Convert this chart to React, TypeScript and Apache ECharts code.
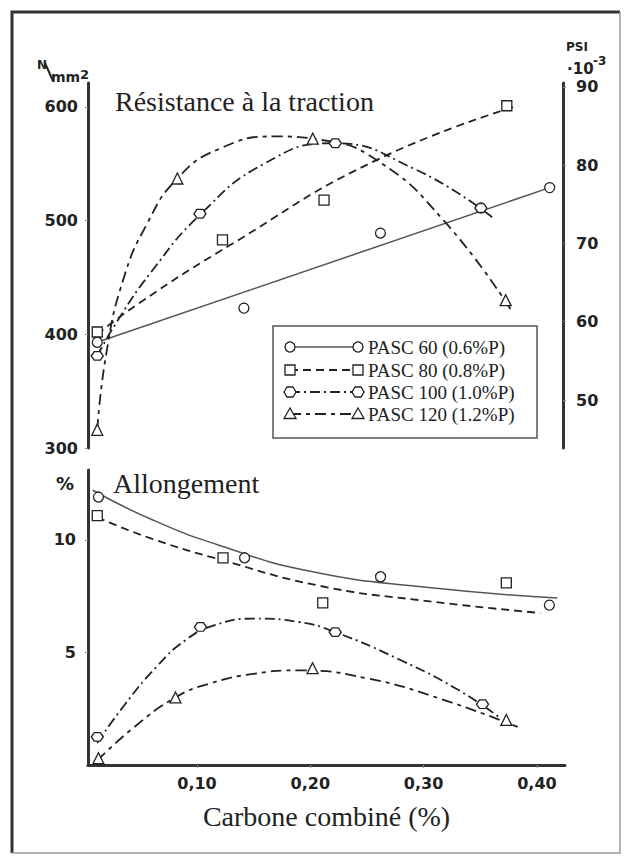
import React, { useEffect, useRef } from 'react';
import * as echarts from 'echarts';

// ---- axis ticks ----
const xTicks = [0.1, 0.2, 0.3, 0.4];
const rmTicks = [300, 400, 500, 600];
const psiTicks = [50, 60, 70, 80, 90];
const elongTicks = [5, 10];

const names = ['PASC 60 (0.6%P)', 'PASC 80 (0.8%P)', 'PASC 100 (1.0%P)', 'PASC 120 (1.2%P)'];

// ---- Résistance à la traction (N/mm2): measured points ----
const rmX60 = [0.012, 0.142, 0.263, 0.352, 0.413];
const rmY60 = [393, 423, 489, 511, 529];
const rmX80 = [0.012, 0.123, 0.213, 0.375];
const rmY80 = [402, 483, 518, 601];
const rmX100 = [0.012, 0.103, 0.223, 0.352];
const rmY100 = [381, 506, 568, 511];
const rmX120 = [0.012, 0.083, 0.203, 0.374];
const rmY120 = [316, 537, 572, 430];

// ---- Résistance: drawn curves ----
const rmCurveX60 = [0.012, 0.413];
const rmCurveY60 = [393, 529];
const rmCurveX80 = [0.012, 0.05, 0.129, 0.259, 0.385];
const rmCurveY80 = [400, 428, 478, 553, 601];
const rmCurveX100 = [0.012, 0.03, 0.06, 0.103, 0.16, 0.22, 0.294, 0.362];
const rmCurveY100 = [381, 412, 455, 505, 550, 568, 545, 503];
const rmCurveX120 = [0.012, 0.02, 0.035, 0.056, 0.083, 0.12, 0.17, 0.21, 0.26, 0.32, 0.379];
const rmCurveY120 = [316, 383, 448, 497, 537, 563, 574, 571, 553, 499, 421];

// ---- Allongement (%): measured points ----
const alX60 = [0.013, 0.142, 0.262, 0.411];
const alY60 = [11.9, 9.2, 8.36, 7.1];
const alX80 = [0.012, 0.123, 0.211, 0.373];
const alY80 = [11.07, 9.2, 7.2, 8.09];
const alX100 = [0.012, 0.103, 0.222, 0.352];
const alY100 = [1.25, 6.13, 5.9, 2.7];
const alX120 = [0.013, 0.081, 0.202, 0.373];
const alY120 = [0.3, 3.0, 4.3, 2.0];

// ---- Allongement: drawn curves ----
const alCurveX60 = [0.008, 0.06, 0.12, 0.2, 0.3, 0.418];
const alCurveY60 = [12.2, 10.9, 9.75, 8.6, 7.9, 7.42];
const alCurveX80 = [0.012, 0.06, 0.122, 0.209, 0.3, 0.403];
const alCurveY80 = [11.0, 10.05, 9.1, 7.95, 7.3, 6.75];
const alCurveX100 = [0.012, 0.035, 0.065, 0.09, 0.115, 0.15, 0.19, 0.222, 0.28, 0.33, 0.366];
const alCurveY100 = [0.98, 2.6, 4.4, 5.55, 6.2, 6.5, 6.35, 5.9, 4.65, 3.35, 2.15];
const alCurveX120 = [0.012, 0.045, 0.081, 0.11, 0.15, 0.19, 0.25, 0.313, 0.383];
const alCurveY120 = [0.2, 1.7, 3.0, 3.6, 4.05, 4.2, 3.85, 2.97, 1.69];

const zip = (xs: number[], ys: number[]) => xs.map((x, i) => [x, ys[i]]);

const HEX = 'path://M0,5 L2.9,0 L8.7,0 L11.6,5 L8.7,10 L2.9,10 Z';
const symbols = ['circle', 'rect', HEX, 'triangle'];
const symbolSizes = [10, 10, [12, 10], 11];
const dashes: any[] = ['solid', [8, 5], [10, 4, 2, 4], [11, 5, 4, 5]];
const lineColors = ['#555', '#222', '#222', '#222'];
const lineWidths = [1.5, 1.8, 1.8, 1.8];

const X_MIN = 0.0038;
const X_MAX = 0.4248;

export default function App() {
  const ref = useRef<HTMLDivElement>(null);
  useEffect(() => {
    if (!ref.current) return;
    const chart = echarts.init(ref.current, null, { renderer: 'svg' });

    const topPts = [zip(rmX60, rmY60), zip(rmX80, rmY80), zip(rmX100, rmY100), zip(rmX120, rmY120)];
    const topCurves = [
      zip(rmCurveX60, rmCurveY60),
      zip(rmCurveX80, rmCurveY80),
      zip(rmCurveX100, rmCurveY100),
      zip(rmCurveX120, rmCurveY120),
    ];
    const botPts = [zip(alX60, alY60), zip(alX80, alY80), zip(alX100, alY100), zip(alX120, alY120)];
    const botCurves = [
      zip(alCurveX60, alCurveY60),
      zip(alCurveX80, alCurveY80),
      zip(alCurveX100, alCurveY100),
      zip(alCurveX120, alCurveY120),
    ];

    const series: any[] = [];
    const addPanel = (curves: number[][][], pts: number[][][], xi: number, yi: number) => {
      for (let i = 0; i < 4; i++) {
        series.push({
          type: 'line',
          name: names[i],
          xAxisIndex: xi,
          yAxisIndex: yi,
          data: curves[i],
          smooth: curves[i].length > 2 ? 0.5 : false,
          symbol: 'none',
          showSymbol: false,
          silent: true,
          lineStyle: { color: lineColors[i], width: lineWidths[i], type: dashes[i] },
          z: 2,
        });
        series.push({
          type: 'scatter',
          name: names[i],
          xAxisIndex: xi,
          yAxisIndex: yi,
          data: pts[i],
          symbol: symbols[i],
          symbolSize: symbolSizes[i],
          symbolKeepAspect: true,
          itemStyle: { color: '#fff', borderColor: '#222', borderWidth: 1.3, opacity: 1 },
          z: 3,
        });
      }
    };
    addPanel(topCurves, topPts, 0, 0);
    addPanel(botCurves, botPts, 1, 2);

    const tickLabel = {
      fontFamily: 'DejaVu Sans',
      fontWeight: 'bold' as const,
      fontSize: 16,
      color: '#222',
    };
    const axisLine = { show: true, onZero: false, lineStyle: { color: '#333', width: 3 } };

    // legend graphics
    const legY = [347, 370, 392, 414];
    const sym = (k: number, cx: number, cy: number) => {
      const style = { fill: '#fff', stroke: '#222', lineWidth: 1.3 };
      if (k === 0) return { type: 'circle', z: 102, shape: { cx, cy, r: 5 }, style };
      if (k === 1) return { type: 'rect', z: 102, shape: { x: cx - 5, y: cy - 5, width: 10, height: 10 }, style };
      if (k === 2)
        return {
          type: 'polygon', z: 102,
          shape: { points: [[cx - 6, cy], [cx - 3, cy - 5], [cx + 3, cy - 5], [cx + 6, cy], [cx + 3, cy + 5], [cx - 3, cy + 5]] },
          style,
        };
      return { type: 'polygon', z: 102, shape: { points: [[cx, cy - 6], [cx + 6, cy + 4.5], [cx - 6, cy + 4.5]] }, style };
    };
    const legendEls: any[] = [
      { type: 'rect', z: 100, shape: { x: 273, y: 326, width: 264, height: 112 }, style: { fill: '#fff', stroke: '#555', lineWidth: 1.5 } },
    ];
    names.forEach((n, i) => {
      const y = legY[i];
      legendEls.push({
        type: 'line', z: 101,
        shape: { x1: 290, y1: y, x2: 358, y2: y },
        style: { stroke: lineColors[i], lineWidth: lineWidths[i], lineDash: dashes[i] === 'solid' ? null : dashes[i] },
      });
      legendEls.push(sym(i, 290, y));
      legendEls.push(sym(i, 358, y));
      legendEls.push({
        type: 'text', z: 102, x: 368, y,
        style: { text: n, fontFamily: 'Liberation Serif', fontSize: 19, fill: '#222', verticalAlign: 'middle' },
      });
    });

    const boldSans = (size: number) => ({ fontFamily: 'DejaVu Sans', fontWeight: 'bold', fontSize: size, fill: '#222' });

    const option: any = {
      animation: false,
      backgroundColor: '#fff',
      grid: [
        { left: 88, right: 61, top: 83, bottom: 409 },
        { left: 88, right: 59, top: 470, bottom: 92 },
      ],
      xAxis: [
        { type: 'value', gridIndex: 0, min: X_MIN, max: X_MAX, show: false },
        {
          type: 'value', gridIndex: 1, min: X_MIN, max: X_MAX,
          axisLine,
          axisTick: { show: true, customValues: xTicks, length: 3, lineStyle: { color: '#888' } },
          axisLabel: { ...tickLabel, customValues: xTicks, margin: 10, formatter: (v: number) => v.toFixed(2).replace('.', ',') },
          splitLine: { show: false },
          name: 'Carbone combiné (%)',
          nameLocation: 'middle',
          nameGap: 37,
          nameTextStyle: { fontFamily: 'Liberation Serif', fontSize: 28, color: '#222' },
        },
      ],
      yAxis: [
        {
          type: 'value', gridIndex: 0, min: 300, max: 621,
          axisLine,
          axisTick: { show: true, customValues: rmTicks, length: 3, lineStyle: { color: '#888' } },
          axisLabel: { ...tickLabel, margin: 10, customValues: rmTicks },
          splitLine: { show: false },
        },
        {
          type: 'value', gridIndex: 0, position: 'right', min: 43.87, max: 90.5,
          axisLine,
          axisTick: { show: true, customValues: psiTicks, length: 3, lineStyle: { color: '#888' } },
          axisLabel: { ...tickLabel, customValues: psiTicks, margin: 13 },
          splitLine: { show: false },
        },
        {
          type: 'value', gridIndex: 1, min: 0, max: 13.1,
          axisLine,
          axisTick: { show: true, customValues: elongTicks, length: 3, lineStyle: { color: '#888' } },
          axisLabel: { ...tickLabel, customValues: elongTicks, margin: 12 },
          splitLine: { show: false },
        },
      ],
      series,
      graphic: [
        // frame
        { type: 'polyline', z: 50, shape: { points: [[12, 853], [12, 12], [620, 12]] }, style: { stroke: '#333', lineWidth: 3, fill: null } },
        { type: 'polyline', z: 50, shape: { points: [[620, 12], [620, 853], [12, 853]] }, style: { stroke: '#9a9a9a', lineWidth: 1.5, fill: null } },
        // titles
        { type: 'text', x: 115, y: 101, style: { text: 'Résistance à la traction', fontFamily: 'Liberation Serif', fontSize: 28, fill: '#222', verticalAlign: 'middle' } },
        { type: 'text', x: 113, y: 483, style: { text: 'Allongement', fontFamily: 'Liberation Serif', fontSize: 28, fill: '#222', verticalAlign: 'middle' } },
        // units
        { type: 'text', x: 37, y: 65, style: { text: 'N', ...boldSans(12), verticalAlign: 'middle' } },
        { type: 'line', shape: { x1: 45, y1: 63, x2: 53, y2: 81 }, style: { stroke: '#222', lineWidth: 2 } },
        { type: 'text', x: 51, y: 84, style: { text: 'mm', ...boldSans(14), verticalAlign: 'bottom' } },
        { type: 'text', x: 80, y: 74, style: { text: '2', ...boldSans(13), verticalAlign: 'middle' } },
        { type: 'text', x: 577, y: 47, style: { text: 'PSI', ...boldSans(12), align: 'center', verticalAlign: 'middle' } },
        { type: 'text', x: 567, y: 69, style: { text: '·10', ...boldSans(15), verticalAlign: 'middle' } },
        { type: 'text', x: 593, y: 61, style: { text: '-3', ...boldSans(12), verticalAlign: 'middle' } },
        { type: 'text', x: 65, y: 483, style: { text: '%', ...boldSans(18), align: 'center', verticalAlign: 'middle' } },
        ...legendEls,
      ],
    };
    chart.setOption(option);
    return () => chart.dispose();
  }, []);

  return (
    <div
      ref={ref}
      style={{ position: 'fixed', left: 0, top: 0, width: 624, height: 857, background: '#fff' }}
    />
  );
}
